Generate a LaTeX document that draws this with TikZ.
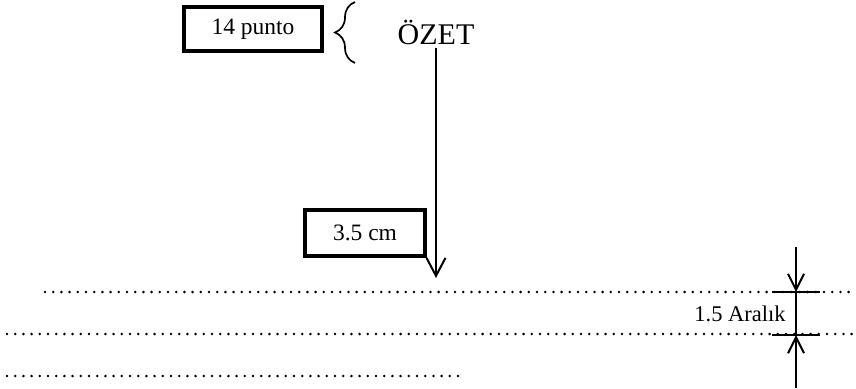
\documentclass[tikz,border=0pt]{standalone}
\usepackage{fontspec}
\setmainfont{Liberation Serif}
\usetikzlibrary{positioning,arrows.meta,decorations.pathreplacing}

\begin{document}
\begin{tikzpicture}[x=1pt,y=-1pt,
				box/.style={draw,rectangle,line width=3.5pt,outer sep=0pt,font=\fontsize{23.5}{25}\selectfont},
				dots/.style={line width=2.8pt,line cap=round,dash pattern=on 0pt off 8.2pt},
				arr/.style={line width=2pt,-{Straight Barb[length=18pt,width=19pt,line width=2pt]}},
				dim/.style={line width=2pt,-{Straight Barb[length=16pt,width=16pt,line width=2pt]}}]
				\useasboundingbox (0,0) rectangle (856,388);
				\node (PUNTO) [box,minimum width=138pt,minimum height=44pt] at (253,29) {14 punto};
				\node (OZET)  [font=\fontsize{30}{32}\selectfont] at (436,32) {ÖZET};
				\node (CM)    [box,minimum width=120pt,minimum height=46pt] at (365,233) {3.5 cm};
				\node (ARALIK) [font=\fontsize{22.5}{24}\selectfont] at (740,314) {1.5 Aralık};
				\coordinate (TIP)  at (436,278);
				\coordinate (UP)   at (796,247);
				\coordinate (T1)   at (796,292);
				\coordinate (T2)   at (796,335);
				\coordinate (DOWN) at (796,388);
				
				\draw[line width=1.7pt,decorate,decoration={brace,amplitude=20pt,aspect=0.5}] (355,63) -- (355,2);
				\draw[arr] (OZET.south -| TIP) -- (TIP);
				\draw[dots] (45,292) -- (856,292) (7,334) -- (856,334) (7,376) -- (458,376);
				\draw[dim] (UP) -- (T1);
				\draw[line width=2pt] (T1) -- (T2);
				\draw[dim] (DOWN) -- (T2);
				\draw[line width=2pt] (772,292) -- (820,292) (772,335) -- (820,335);
			\end{tikzpicture}
\end{document}
